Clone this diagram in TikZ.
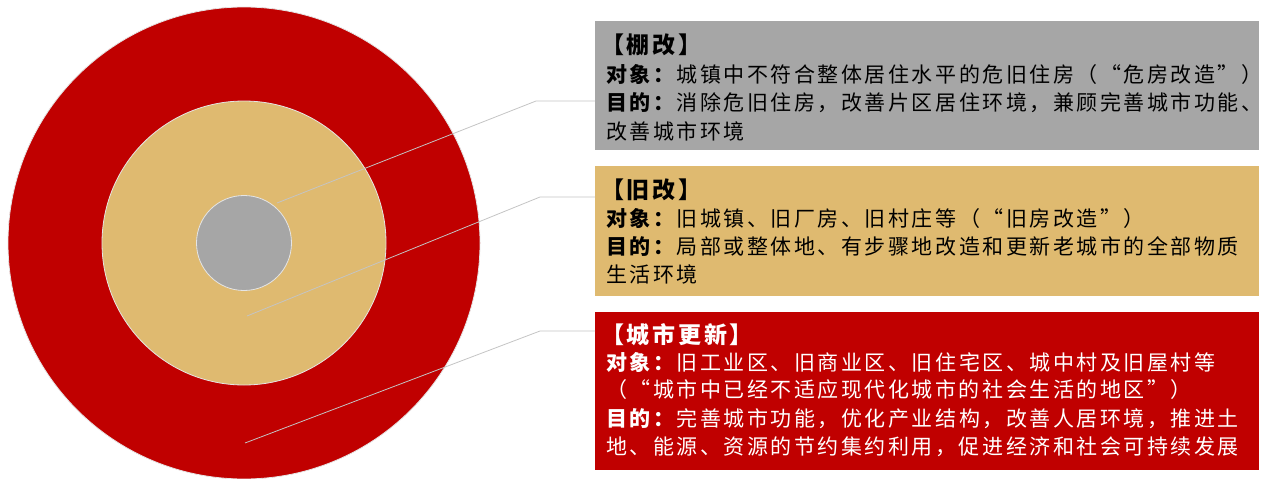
\documentclass[tikz,border=0pt]{standalone}
\usepackage{fontspec}
\newfontfamily\cjk[LetterSpace=12]{Noto Sans CJK SC}
\definecolor{cred}{HTML}{C00000}
\definecolor{ctan}{HTML}{DFBA70}
\definecolor{cgray}{HTML}{A6A6A6}
\definecolor{cline}{HTML}{C4C4C4}
\tikzset{
  ring/.style={draw=white!80!gray, line width=0.8pt},
  box/.style={rectangle, inner sep=0pt, anchor=north west, draw=none},
  leader/.style={draw=cline, line width=0.8pt},
  txt/.style={anchor=base west, inner sep=0pt, font=\cjk\fontsize{21}{28}\selectfont},
  ttl/.style={anchor=base west, inner sep=0pt, font=\cjk\fontsize{23}{28}\selectfont\bfseries},
}
\begin{document}
\begin{tikzpicture}[x=1pt,y=-1pt]
\useasboundingbox (0,0) rectangle (1266,479);
% circles
\fill[cred] (244,243) circle (236);
\draw[ring] (244,243) circle (236);
\fill[ctan] (244,243) circle (142);
\draw[ring] (244,243) circle (142);
\fill[cgray] (244,243) circle (47.5);
\draw[ring] (244,243) circle (47.5);
\coordinate (p1) at (277,203);
\coordinate (p2) at (247,316);
\coordinate (p3) at (245,443);
% boxes
\node[box, fill=cgray, minimum width=664, minimum height=129] (gb) at (595,21) {};
\node[box, fill=ctan, minimum width=664, minimum height=130] (tb) at (595,166) {};
\node[box, fill=cred, minimum width=664, minimum height=158] (rb) at (595,312) {};
% leaders
\coordinate (e1) at (536,101);
\coordinate (e2) at (540,197);
\coordinate (e3) at (540,331);
\draw[leader] (p1) -- (e1) -- (e1 -| gb.west);
\draw[leader] (p2) -- (e2) -- (e2 -| tb.west);
\draw[leader] (p3) -- (e3) -- (e3 -| rb.west);
% gray box text
\node[ttl] (g1) at (601,53) {【棚改】};
\node[txt] (g2) at (606,82) {\textbf{对象：}城镇中不符合整体居住水平的危旧住房（“危房改造”）};
\node[txt] (g3) at (606,110) {\textbf{目的：}消除危旧住房，改善片区居住环境，兼顾完善城市功能、};
\node[txt] (g4) at (606,139) {改善城市环境};
% tan box text
\node[ttl] (t1) at (601,198) {【旧改】};
\node[txt] (t2) at (606,226) {\textbf{对象：}旧城镇、旧厂房、旧村庄等（“旧房改造”）};
\node[txt] (t3) at (606,254) {\textbf{目的：}局部或整体地、有步骤地改造和更新老城市的全部物质};
\node[txt] (t4) at (606,282) {生活环境};
% red box text
\node[ttl, text=white] (r1) at (601,343) {【城市更新】};
\node[txt, text=white] (r2) at (606,370) {\textbf{对象：}旧工业区、旧商业区、旧住宅区、城中村及旧屋村等};
\node[txt, text=white] (r3) at (606,397) {（“城市中已经不适应现代化城市的社会生活的地区”）};
\node[txt, text=white] (r4) at (606,426) {\textbf{目的：}完善城市功能，优化产业结构，改善人居环境，推进土};
\node[txt, text=white] (r5) at (606,454) {地、能源、资源的节约集约利用，促进经济和社会可持续发展};
\end{tikzpicture}
\end{document}
